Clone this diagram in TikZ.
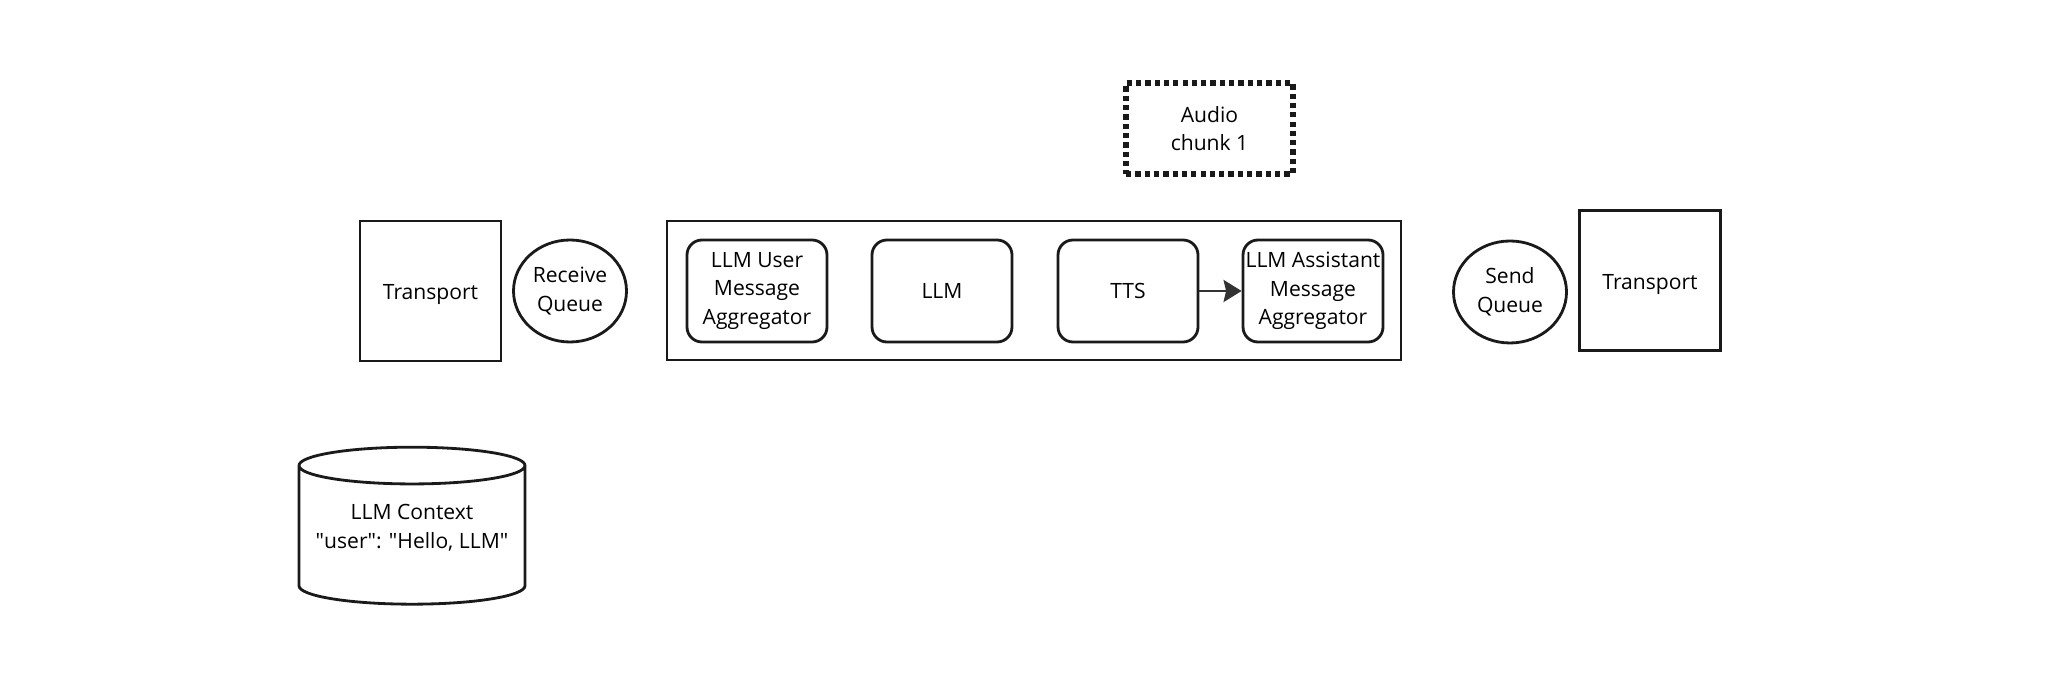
\documentclass[tikz,border=0pt]{standalone}
\usepackage{fontspec}
\setmainfont{Open Sans}
\usepackage{tikz}
\usetikzlibrary{shapes,shapes.geometric,arrows.meta,positioning}
\definecolor{lineblack}{RGB}{26,26,26}
\definecolor{arrowgray}{RGB}{51,51,51}

\begin{document}
\begin{tikzpicture}[
    font=\fontsize{12}{16.3}\selectfont,
    transport/.style={rectangle, draw=lineblack, line width=1.6pt, minimum width=2.82cm, minimum height=2.8cm, text height=0.46cm, align=center},
    queue/.style={ellipse, draw=lineblack, line width=1.6pt, minimum width=2.26cm, minimum height=2.04cm, inner sep=0pt, align=center},
    pipeline/.style={rectangle, draw=lineblack, line width=1.6pt, minimum width=14.68cm, minimum height=2.78cm},
    processor/.style={rectangle, rounded corners=0.3cm, draw=lineblack, line width=1.6pt, minimum width=2.8cm, minimum height=2.04cm, inner sep=0pt, align=center},
    frame/.style={rectangle, draw=lineblack, line width=3pt, dash pattern=on 3pt off 2.3pt, minimum width=3.34cm, minimum height=1.82cm, align=center},
    storage/.style={cylinder, shape border rotate=90, draw=lineblack, line width=1.6pt, aspect=0.18, minimum width=4.52cm, minimum height=3.14cm, align=center},
    arrow/.style={-{Stealth[length=0.36cm, width=0.44cm, inset=0.05cm]}, line width=1.6pt, draw=arrowgray, fill=arrowgray}
]
\useasboundingbox (0,0) rectangle (40.96,13.66);

% Input side
\node[transport] (transportin) at (8.61,7.84) {Transport};
\node[queue] (receivequeue) at (11.40,7.84) {Receive\\Queue};

% Pipeline
\node[pipeline] (pipe) at (20.68,7.85) {};
\node[processor] (useragg) at (15.14,7.84) {LLM User\\Message\\Aggregator};
\node[processor] (llm) at (18.84,7.84) {LLM};
\node[processor] (tts) at (22.56,7.84) {TTS};
\node[processor] (assistantagg) at (26.26,7.84) {LLM Assistant\\Message\\Aggregator};

% Frame in flight
\node[frame] (audio) at (24.19,11.09) {Audio\\chunk 1};

% Output side
\node[queue] (sendqueue) at (30.20,7.82) {Send\\Queue};
\node[transport] (transportout) at (33.00,8.05) {Transport};

% Context
\node[storage, text depth=0.48cm] (context) at (8.24,2.89) {LLM Context\\\textquotedbl user\textquotedbl: \textquotedbl Hello, LLM\textquotedbl};

% Connections
\draw[arrow] (tts) -- (assistantagg);

\end{tikzpicture}
\end{document}
